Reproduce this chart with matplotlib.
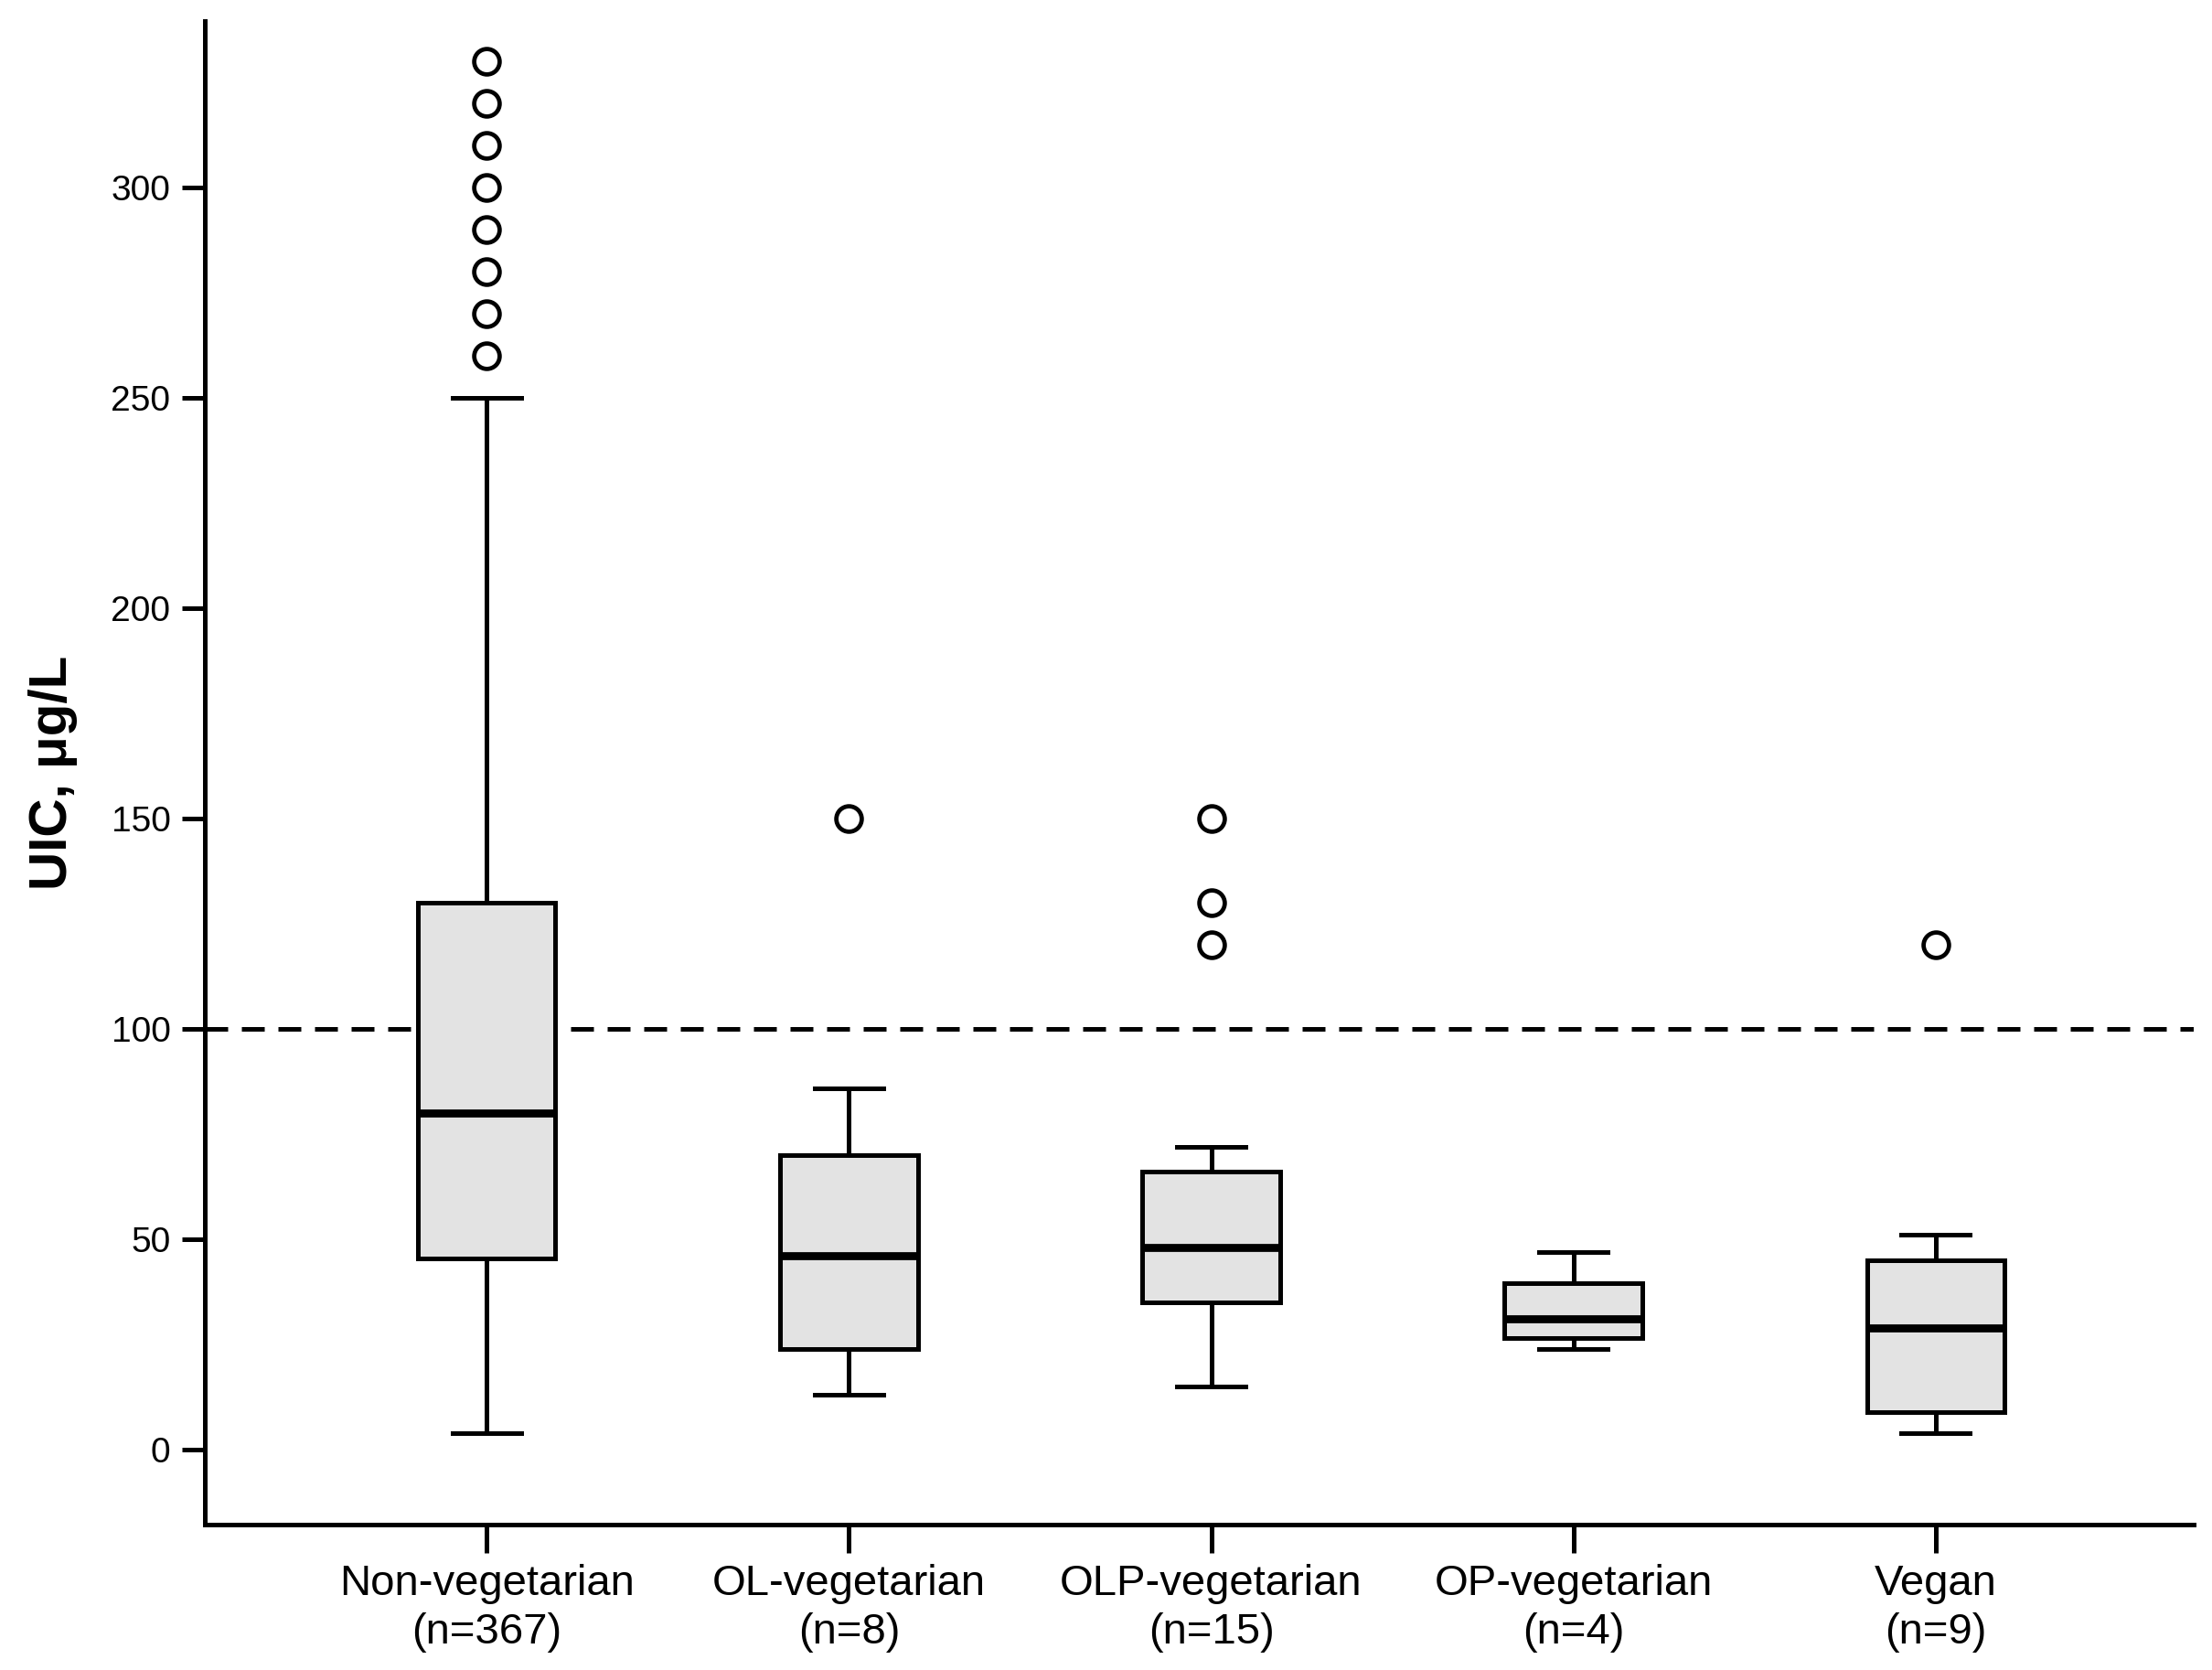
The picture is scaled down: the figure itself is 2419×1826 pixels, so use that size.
import matplotlib
matplotlib.use("Agg")
import matplotlib.pyplot as plt

# ---- data ----
categories = ["Non-vegetarian\n(n=367)", "OL-vegetarian\n(n=8)", "OLP-vegetarian\n(n=15)",
              "OP-vegetarian\n(n=4)", "Vegan\n(n=9)"]
q1_vals = [45.5, 24, 35, 26.5, 9]
median_vals = [80, 46, 48, 31, 29]
q3_vals = [130, 70, 66, 39.5, 45]
whisker_low = [4, 13, 15, 24, 4]
whisker_high = [250, 86, 72, 47, 51]
outliers = [[260, 270, 280, 290, 300, 310, 320, 330], [150], [120, 130, 150], [], [120]]
reference_line = 100
y_ticks = [0, 50, 100, 150, 200, 250, 300]

plt.rcParams['font.family'] = ['Liberation Sans', 'DejaVu Sans']

fig = plt.figure(figsize=(24.19, 18.26), dpi=100)
ax = fig.add_axes([0.0926, 0.0871, 0.9917 - 0.0926, 0.9874 - 0.0871])

stats = []
for i in range(len(categories)):
    stats.append(dict(med=median_vals[i], q1=q1_vals[i], q3=q3_vals[i],
                      whislo=whisker_low[i], whishi=whisker_high[i],
                      fliers=outliers[i], label=categories[i]))

positions = list(range(1, len(categories) + 1))
lw = 3.6
ax.bxp(stats, positions=positions, widths=0.38, capwidths=0.19, patch_artist=True,
       boxprops=dict(facecolor='#e3e3e3', edgecolor='black', linewidth=lw),
       medianprops=dict(color='black', linewidth=6.3),
       whiskerprops=dict(color='black', linewidth=lw),
       capprops=dict(color='black', linewidth=lw),
       flierprops=dict(marker='o', markersize=20, markerfacecolor='white',
                       markeredgecolor='black', markeredgewidth=3.4, linestyle='none'))

ax.axhline(reference_line, color='black', linewidth=lw, dashes=(5, 3), zorder=0.5)

ax.set_xlim(0.222, 5.712)
ax.set_ylim(-17.8, 339.6)
ax.set_yticks(y_ticks)
ax.set_xticks(positions)
ax.set_xticklabels(categories, fontsize=34, linespacing=1.25)
ax.tick_params(axis='y', labelsize=28, length=18, width=lw, pad=9, direction='out')
ax.tick_params(axis='x', length=22, width=lw, pad=9, direction='out')

for s in ['top', 'right']:
    ax.spines[s].set_visible(False)
for s in ['left', 'bottom']:
    ax.spines[s].set_linewidth(lw)

ax.set_ylabel("UIC, μg/L", fontsize=42, fontweight='bold', labelpad=26)

fig.savefig("out.png", dpi=100)
